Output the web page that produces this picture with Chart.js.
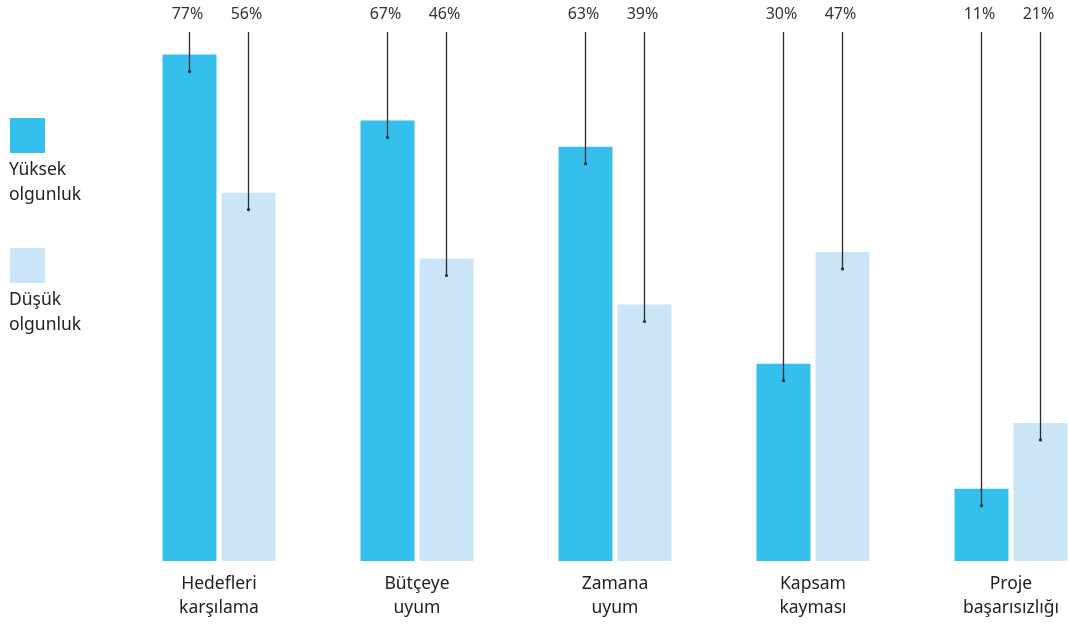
<!DOCTYPE html>
<html>
<head>
<meta charset="utf-8">
<script src="https://cdn.jsdelivr.net/npm/chart.js@4"></script>
<style>
  html, body { margin: 0; padding: 0; background: #fff; overflow: hidden; }
  #wrap { position: relative; width: 1110px; height: 631px; }
</style>
</head>
<body>
<div id="wrap"><canvas id="chart" width="1110" height="631"></canvas></div>
<script>
const categories = [['Hedefleri', 'karşılama'], ['Bütçeye', 'uyum'], ['Zamana', 'uyum'], ['Kapsam', 'kayması'], ['Proje', 'başarısızlığı']];
const yuksek = [77, 67, 63, 30, 11];
const dusuk = [56, 46, 39, 47, 21];
const seriesNames = [['Yüksek', 'olgunluk'], ['Düşük', 'olgunluk']];
const colors = ['#35bfec', '#c9e5f7'];

const FONT = '"Noto Sans", "Open Sans", sans-serif';

// labels on top + leader lines down into each bar
const leaderPlugin = {
  id: 'leaders',
  afterDatasetsDraw(chart) {
    const ctx = chart.ctx;
    ctx.save();
    chart.data.datasets.forEach((ds, di) => {
      chart.getDatasetMeta(di).data.forEach((bar, i) => {
        const x = bar.x;
        const yEnd = bar.y + 17;
        ctx.strokeStyle = '#2b2b2b';
        ctx.lineWidth = 1.3;
        ctx.beginPath();
        ctx.moveTo(x, 32);
        ctx.lineTo(x, yEnd);
        ctx.stroke();
        ctx.fillStyle = '#2b2b2b';
        ctx.beginPath();
        ctx.arc(x, yEnd, 1.6, 0, Math.PI * 2);
        ctx.fill();
        ctx.font = '16px ' + FONT;
        ctx.fillStyle = '#333';
        ctx.textAlign = 'center';
        ctx.textBaseline = 'middle';
        ctx.fillText(ds.data[i] + '%', x - 2, 14);
      });
    });
    // category labels
    const xs = chart.scales.x;
    ctx.font = '17.5px ' + FONT;
    ctx.fillStyle = '#222';
    ctx.textAlign = 'center';
    ctx.textBaseline = 'middle';
    categories.forEach((lines, i) => {
      const cx = xs.getPixelForValue(i);
      ctx.fillText(lines[0], cx, 584);
      ctx.fillText(lines[1], cx, 608);
    });
    // legend on the left
    const boxes = [118, 248];
    ctx.textAlign = 'left';
    seriesNames.forEach((lines, i) => {
      ctx.fillStyle = colors[i];
      ctx.fillRect(10, boxes[i], 35, 35);
      ctx.fillStyle = '#222';
      ctx.fillText(lines[0], 9, boxes[i] + 52);
      ctx.fillText(lines[1], 9, boxes[i] + 77);
    });
    ctx.restore();
  }
};

new Chart(document.getElementById('chart'), {
  type: 'bar',
  data: {
    labels: categories.map(c => c.join(' ')),
    datasets: [
      { label: seriesNames[0].join(' '), data: yuksek, backgroundColor: colors[0] },
      { label: seriesNames[1].join(' '), data: dusuk, backgroundColor: colors[1] }
    ]
  },
  options: {
    responsive: false,
    animation: false,
    layout: { padding: { left: 120, right: 0, top: 2, bottom: 70 } },
    datasets: { bar: { categoryPercentage: 0.596, barPercentage: 0.915 } },
    plugins: { legend: { display: false }, tooltip: { enabled: false } },
    scales: {
      x: { display: false },
      y: { display: false, min: 0, max: 85 }
    }
  },
  plugins: [leaderPlugin]
});
</script>
</body>
</html>
